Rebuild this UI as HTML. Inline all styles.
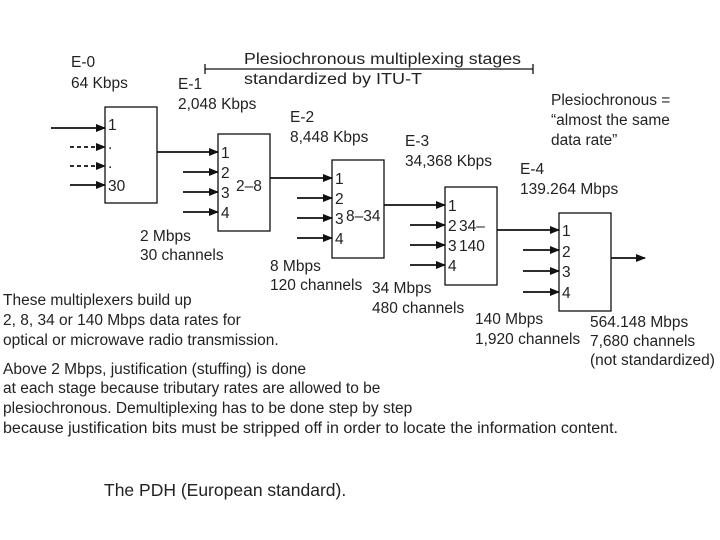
<!DOCTYPE html>
<html><head><meta charset="utf-8"><style>body{margin:0;background:#fff}svg{display:block}text{font-family:"Liberation Sans",sans-serif;font-size:15.5px;fill:#222}</style></head><body>
<svg width="720" height="540" viewBox="0 0 720 540">
<defs><marker id="a" markerWidth="10" markerHeight="8" refX="9" refY="4" orient="auto" markerUnits="userSpaceOnUse"><path d="M0,0L10,4L0,8z" fill="#111"/></marker></defs>
<g stroke="#111" stroke-width="1.3" fill="none">
<rect x="105" y="107" width="52" height="96"/>
<rect x="218" y="134" width="52" height="97"/>
<rect x="332" y="160" width="52" height="98"/>
<rect x="445" y="187" width="52" height="98"/>
<rect x="559" y="213" width="52" height="98"/>
<path d="M205,69H533M205,64V74M533,64V74"/>
</g>
<g stroke="#111" stroke-width="1.8" marker-end="url(#a)">
<line x1="51" y1="128" x2="105" y2="128"/>
<line x1="70" y1="147" x2="105" y2="147" stroke-dasharray="4,3"/>
<line x1="70" y1="166" x2="105" y2="166" stroke-dasharray="4,3"/>
<line x1="70" y1="185" x2="105" y2="185"/>
<line x1="157" y1="152" x2="218" y2="152"/>
<line x1="183" y1="172" x2="218" y2="172"/>
<line x1="183" y1="192" x2="218" y2="192"/>
<line x1="183" y1="212" x2="218" y2="212"/>
<line x1="270" y1="178" x2="332" y2="178"/>
<line x1="297" y1="198" x2="332" y2="198"/>
<line x1="297" y1="218" x2="332" y2="218"/>
<line x1="297" y1="238" x2="332" y2="238"/>
<line x1="384" y1="205" x2="445" y2="205"/>
<line x1="410" y1="225" x2="445" y2="225"/>
<line x1="410" y1="245" x2="445" y2="245"/>
<line x1="410" y1="265" x2="445" y2="265"/>
<line x1="497" y1="230" x2="559" y2="230"/>
<line x1="523" y1="250" x2="559" y2="250"/>
<line x1="523" y1="271" x2="559" y2="271"/>
<line x1="523" y1="292" x2="559" y2="292"/>
<line x1="611" y1="258" x2="645" y2="258"/>
</g>
<text x="108" y="130">1</text><text x="108" y="149">.</text><text x="108" y="168">.</text><text x="108" y="191">30</text>
<text x="221" y="158">1</text><text x="221" y="178">2</text><text x="221" y="198">3</text><text x="221" y="218">4</text><text x="236" y="191">2–8</text>
<text x="335" y="184">1</text><text x="335" y="204">2</text><text x="335" y="224">3</text><text x="335" y="244">4</text><text x="346" y="221">8–34</text>
<text x="448" y="211">1</text><text x="448" y="231">2</text><text x="448" y="251">3</text><text x="448" y="271">4</text><text x="459" y="231">34–</text><text x="459" y="251">140</text>
<text x="562" y="236">1</text><text x="562" y="257">2</text><text x="562" y="277">3</text><text x="562" y="298">4</text>
<text x="71" y="67">E-0</text><text x="71" y="88">64 Kbps</text>
<text x="178" y="89">E-1</text><text x="178" y="109">2,048 Kbps</text>
<text x="290" y="122">E-2</text><text x="290" y="142">8,448 Kbps</text>
<text x="405" y="146">E-3</text><text x="405" y="166">34,368 Kbps</text>
<text x="520" y="174">E-4</text><text x="520" y="194">139.264 Mbps</text>
<text x="244" y="64" textLength="277" lengthAdjust="spacingAndGlyphs">Plesiochronous multiplexing stages</text><text x="244" y="84" textLength="178" lengthAdjust="spacingAndGlyphs">standardized by ITU-T</text>
<text x="551" y="105">Plesiochronous =</text><text x="551" y="125">“almost the same</text><text x="551" y="145">data rate”</text>
<text x="140" y="241">2 Mbps</text><text x="140" y="260">30 channels</text>
<text x="270" y="271">8 Mbps</text><text x="270" y="290">120 channels</text>
<text x="372" y="293">34 Mbps</text><text x="372" y="313">480 channels</text>
<text x="475" y="324">140 Mbps</text><text x="475" y="344">1,920 channels</text>
<text x="590" y="327">564.148 Mbps</text><text x="590" y="346">7,680 channels</text><text x="590" y="365">(not standardized)</text>
<text x="3" y="305">These multiplexers build up</text>
<text x="3" y="325">2, 8, 34 or 140 Mbps data rates for</text>
<text x="3" y="345">optical or microwave radio transmission.</text>
<text x="3" y="374">Above 2 Mbps, justification (stuffing) is done</text>
<text x="3" y="393">at each stage because tributary rates are allowed to be</text>
<text x="3" y="413">plesiochronous. Demultiplexing has to be done step by step</text>
<text x="3" y="433" textLength="615" lengthAdjust="spacingAndGlyphs">because justification bits must be stripped off in order to locate the information content.</text>
<text x="104" y="496" style="font-size:17.5px">The PDH (European standard).</text>
</svg>
</body></html>
